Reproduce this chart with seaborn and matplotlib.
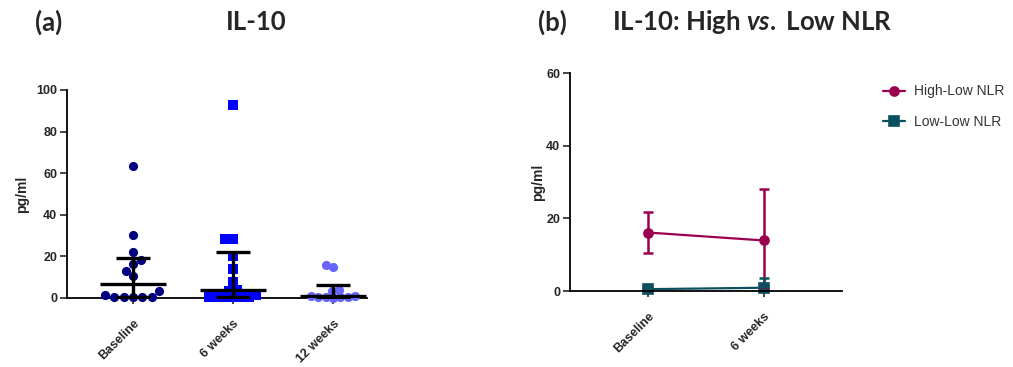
import numpy as np
import pandas as pd
import seaborn as sns
import matplotlib.pyplot as plt

# ---------------- data ----------------
categories_a = ["Baseline", "6 weeks", "12 weeks"]
baseline_vals = [63.5, 30.4, 21.9, 18.4, 16.3, 13.1, 10.4, 3.2, 1.6, 0.3, 0.3, 0.3, 0.3, 0.3]
weeks6_vals = [93.0, 28.3, 28.3, 20.3, 14.1, 7.5, 4.0, 3.5, 1.5, 0.3, 0.3, 0.3, 0.3, 0.3, 0.3]
weeks12_vals = [16.0, 14.8, 4.0, 3.5, 1.2, 0.8, 0.5, 0.3, 0.3, 0.3, 0.2]
medians_a = [6.9, 3.7, 0.8]
q1_a = [0.3, 0.3, 0.3]
q3_a = [19.3, 22.0, 6.4]

categories_b = ["Baseline", "6 weeks"]
groups_b = ["High-Low NLR", "Low-Low NLR"]
high_center = [16.1, 13.9]
high_lower = [10.4, 0.5]
high_upper = [21.7, 28.0]
low_center = [0.5, 0.9]
low_lower = [0.2, 0.2]
low_upper = [0.9, 3.5]

# ---------------- style ----------------
sns.set_theme(style="ticks")
plt.rcParams['font.family'] = ['Liberation Sans', 'DejaVu Sans']
plt.rcParams['mathtext.fontset'] = 'custom'
plt.rcParams['mathtext.it'] = 'Lato:italic:bold'
plt.rcParams['mathtext.rm'] = 'Lato:bold'
plt.rcParams['mathtext.bf'] = 'Lato:bold'

colors_a = ["#000080", "#0000FF", "#6666FF"]
markers_a = ["o", "s", "o"]
layout_size_a = [6.4, 5.4, 5.0]
draw_size_a = [6.6, 7.2, 6.6]
colors_b = ["#9B0050", "#0C4F5E"]

fig = plt.figure(figsize=(10.13, 3.67), dpi=100)
W, H = 1013, 367

# ---------------- panel (a) ----------------
axA = fig.add_axes([67 / W, (H - 298) / H, 300 / W, 208 / H])
df_a = pd.DataFrame({
    "time": [categories_a[0]] * len(baseline_vals) + [categories_a[1]] * len(weeks6_vals)
            + [categories_a[2]] * len(weeks12_vals),
    "value": baseline_vals + weeks6_vals + weeks12_vals,
})
swarm_colls = []
for cat, col, mk, ls, ds in zip(categories_a, colors_a, markers_a, layout_size_a, draw_size_a):
    n_before = len(axA.collections)
    sns.swarmplot(data=df_a[df_a["time"] == cat], x="time", y="value", order=categories_a,
                  ax=axA, color=col, marker=mk, size=ls, linewidth=0, zorder=3)
    for coll in axA.collections[n_before:]:
        coll.set_clip_on(False)
        swarm_colls.append((coll, ds))

xa = np.arange(len(categories_a))
axA.hlines(medians_a, xa - 0.33, xa + 0.33, color="black", lw=2.4, zorder=4)
axA.errorbar(xa, medians_a,
             yerr=[np.array(medians_a) - np.array(q1_a), np.array(q3_a) - np.array(medians_a)],
             fmt="none", ecolor="black", elinewidth=2.4, capsize=12, capthick=2.4, zorder=4)

tick_font = dict(family="Liberation Sans", weight="bold", size=9)
xtick_font = dict(family="Liberation Sans", weight="bold", size=9)

axA.set_xlim(-0.66, 2.34)
axA.set_ylim(0, 100)
axA.set_yticks([0, 20, 40, 60, 80, 100])
axA.set_xlabel("")
axA.set_ylabel("pg/ml", fontsize=10, fontweight="bold", family="Liberation Sans", labelpad=5)
axA.set_xticks(xa)
axA.set_xticklabels(categories_a, rotation=45, ha="right", rotation_mode="anchor",
                    fontdict=xtick_font)
for lab in axA.get_yticklabels():
    lab.set_fontproperties(tick_font)
axA.tick_params(axis="x", length=4, width=1.2, pad=10)
axA.tick_params(axis="y", length=5, width=1.2, pad=2)
sns.despine(ax=axA)
for sp in ["left", "bottom"]:
    axA.spines[sp].set_linewidth(1.3)
    axA.spines[sp].set_color("black")

# ---------------- panel (b) ----------------
axB = fig.add_axes([570 / W, (H - 291) / H, 272 / W, 218 / H])
df_b = pd.DataFrame({
    "time": categories_b * 2,
    "group": [g for g in groups_b for _ in categories_b],
    "value": high_center + low_center,
})
sns.pointplot(data=df_b, x="time", y="value", hue="group", order=categories_b,
              hue_order=groups_b, palette=colors_b, markers=["o", "s"],
              linestyles=["-", "-"], errorbar=None, ax=axB, markersize=6.5,
              linewidth=1.6)
xb = np.arange(len(categories_b))
for center, lo, hi, col in [(high_center, high_lower, high_upper, colors_b[0]),
                            (low_center, low_lower, low_upper, colors_b[1])]:
    c = np.array(center)
    axB.errorbar(xb, c, yerr=[c - np.array(lo), np.array(hi) - c], fmt="none",
                 ecolor=col, elinewidth=1.8, capsize=3.5, capthick=1.8, zorder=2)
for coll in axB.collections:
    coll.set_clip_on(False)
for ln in axB.lines:
    ln.set_clip_on(False)

axB.set_xlim(-0.668, 1.67)
axB.set_ylim(0, 60)
axB.set_yticks([0, 20, 40, 60])
axB.set_xlabel("")
axB.set_ylabel("pg/ml", fontsize=10, fontweight="bold", family="Liberation Sans", labelpad=1)
axB.set_xticks(xb)
axB.set_xticklabels(categories_b, rotation=45, ha="right", rotation_mode="anchor",
                    fontdict=xtick_font)
for lab in axB.get_yticklabels():
    lab.set_fontproperties(tick_font)
axB.tick_params(axis="x", length=4, width=1.2, pad=10)
axB.tick_params(axis="y", length=5, width=1.2, pad=2)
sns.despine(ax=axB)
for sp in ["left", "bottom"]:
    axB.spines[sp].set_linewidth(1.3)
    axB.spines[sp].set_color("black")

leg = axB.legend(loc="upper left", bbox_to_anchor=(870 / W, (H - 72) / H),
                 bbox_transform=fig.transFigure, frameon=False,
                 prop=dict(family="Liberation Sans", size=10),
                 handlelength=1.6, labelspacing=1.2, handletextpad=0.7)
for t in leg.get_texts():
    t.set_color("#333333")

# ---------------- titles ----------------
title_kw = dict(fontsize=18.5, fontweight="bold", family="Lato", va="center")
fig.text(35 / W, 1 - 22 / H, "(a)", ha="left", **title_kw)
fig.text(256 / W, 1 - 22 / H, "IL-10", ha="center", **title_kw)
fig.text(538 / W, 1 - 22 / H, "(b)", ha="left", **title_kw)
fig.text(612 / W, 1 - 22 / H, r"IL-10: High $\mathit{vs.}$ Low NLR", ha="left", **title_kw)

# compute the swarm layout once at the layout marker size, then freeze it
# and enlarge the markers so they overlap like the reference
fig.canvas.draw()
for coll, ds in swarm_colls:
    if "draw" in coll.__dict__:
        del coll.__dict__["draw"]
    coll.set_sizes([ds ** 2])

fig.savefig("out.png", dpi=100)
